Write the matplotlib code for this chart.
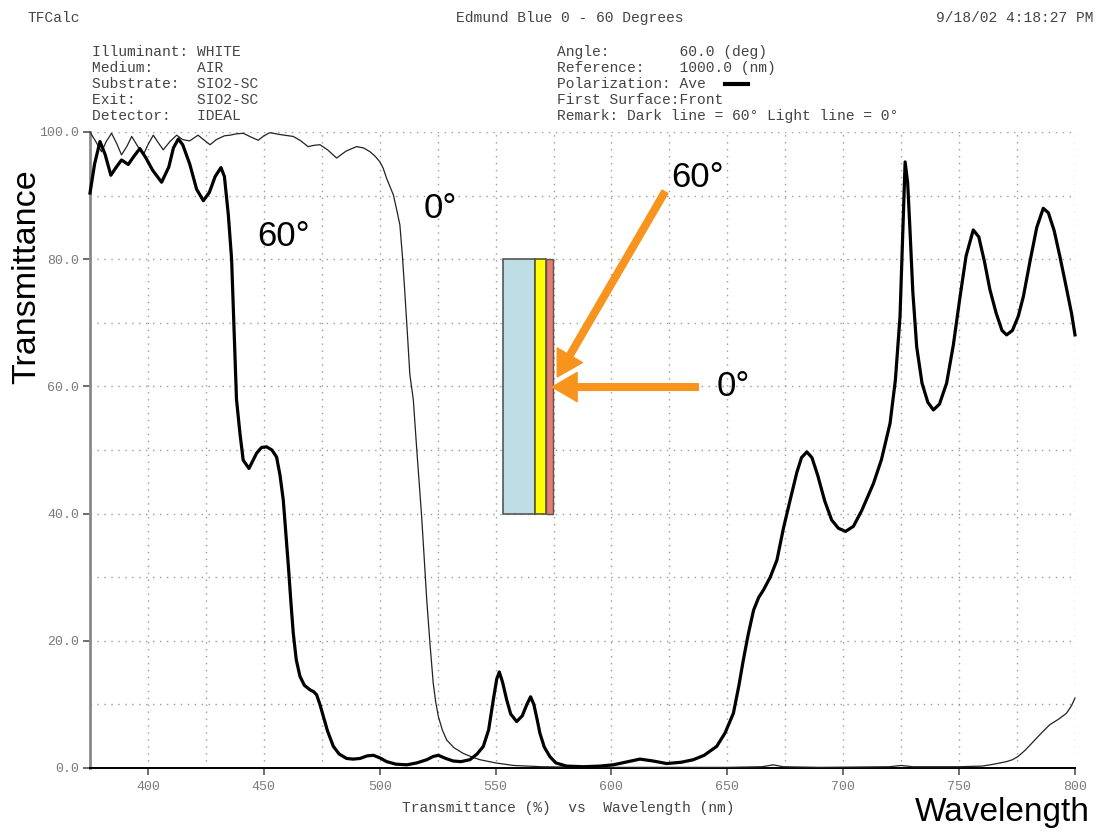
import matplotlib
matplotlib.use('Agg')
import matplotlib.pyplot as plt
from matplotlib.patches import Rectangle
from matplotlib.lines import Line2D

# ---------------- data ----------------
wl_60 = [375, 377, 379.3, 381.5, 384, 386, 388.6, 391.5, 394, 396.5, 399, 402, 405.9, 409, 411,
         413.1, 415, 418, 421, 423.9, 426.5, 429, 431.5, 433, 434.7, 436.1, 437.5, 438.2, 439.7,
         441.1, 443.6, 446.9, 449, 451.2, 453.5, 455.5, 457, 458.4, 459.5, 460.6, 461.7, 462.7,
         464, 465.6, 467.5, 469.9, 471.5, 472.8, 474.2, 475.7, 477.5, 480, 482.5, 485.7, 488.5,
         491.5, 494.5, 497.3, 500, 503, 507, 511.7, 516, 520.3, 523, 525.3, 528.5, 531.7, 535,
         538.9, 542, 544.7, 547, 549, 550.5, 551.6, 553, 554.8, 556.5, 559.1, 561.5, 563.5, 565.1,
         566.5, 568, 569.1, 571, 573.4, 576, 580.6, 587.9, 595, 600.8, 606, 612.3, 618, 623.8,
         630, 635.3, 640, 645.4, 649, 652.6, 655, 656.9, 659, 661.3, 663.5, 665.6, 668.5, 671.4,
         674.2, 677, 680, 682, 684.3, 686.5, 689, 692, 695, 697.9, 701, 704.4, 708, 713, 716.5,
         720.2, 722.5, 724.5, 725.6, 726.7, 727.8, 728.8, 730, 731.7, 734, 736.5, 738.9, 741.5,
         744.6, 747.5, 750.4, 753, 756.1, 758.5, 761, 763.3, 766, 768.5, 770.5, 773, 775.5, 777.7,
         780.5, 783.5, 786.3, 788.5, 791, 793.5, 796, 798.5, 800]
t_60 = [90.4, 95, 98.5, 96.5, 93.2, 94.3, 95.6, 94.9, 96.2, 97.4, 96, 94, 92.1, 94.5, 97.5,
        98.9, 98, 95, 91, 89.2, 90.5, 93, 94.4, 93, 86.9, 80, 65, 58, 52.6,
        48.4, 47.1, 49.5, 50.4, 50.5, 50, 48.9, 46, 42.1, 37, 31.7, 26, 21.2,
        17, 14.4, 13, 12.3, 12, 11.5, 10, 8.1, 5.8, 3.4, 2.2, 1.5, 1.4,
        1.5, 1.9, 2.0, 1.6, 1.0, 0.6, 0.5, 0.8, 1.3, 1.8, 2.0, 1.5, 1.1, 1.0,
        1.3, 2.2, 3.4, 6, 10.7, 14, 15.1, 13.5, 10.7, 8.5, 7.3, 8.2, 10, 11.2,
        10, 7.5, 5.5, 3.3, 1.8, 0.8, 0.3, 0.2, 0.3, 0.5, 0.9, 1.4, 1.1, 0.7,
        0.9, 1.3, 2.0, 3.4, 5.5, 8.6, 13, 17, 21, 24.8, 26.8, 28, 30, 32.7,
        37.7, 42, 46.5, 48.8, 49.7, 48.8, 46, 42, 39, 37.7, 37.2, 38, 40.5, 44.7, 48.5,
        54.2, 61, 71, 83, 95.3, 92, 84.6, 75, 66.2, 60.5, 57.5, 56.3, 57.2,
        60.5, 66.5, 74.1, 80.5, 84.6, 83.5, 79.5, 75.2, 71.5, 68.8, 68.1, 68.8, 71, 74.1,
        79.5, 85, 88, 87.3, 84.5, 80.4, 76, 71.5, 68.1]

wl_0 = [375, 377.5, 380, 382, 384.3, 386.5, 388.6, 391, 393, 395.5, 398, 400, 402.3, 404.5,
        406.6, 409.5, 412.4, 415, 418, 421.6, 424, 426.8, 429.5, 433, 435.4, 438, 441.1, 444.5,
        447.6, 450, 452.6, 457, 462.7, 466, 469.1, 471.5, 474.2, 477.5, 481.4, 485.5, 490, 493,
        495.8, 498, 500.1, 501.5, 503, 505.9, 507.5, 508.7, 509.8, 510.8, 512, 513, 514.5, 516,
        517, 518.1, 519.2, 520.3, 521.7, 523.1, 524.2, 525.3, 527, 528.9, 532, 536, 540, 543.3,
        550, 557.7, 570, 590, 620, 650, 665, 669.8, 674, 690, 720, 725, 730, 750, 760, 765,
        770.4, 773, 775.4, 778.5, 781.9, 785.5, 789.1, 793, 796.3, 798.5, 800]
t_0 = [100, 98.5, 96.9, 98.5, 99.8, 98.2, 96.4, 97.8, 99.3, 97.8, 96.4, 98, 99.5, 98.3,
       97.2, 98.5, 99.5, 98.8, 98.6, 99.5, 98.8, 98, 98.8, 99.4, 99.5, 99.7, 99.8, 99.2,
       98.7, 99.4, 99.9, 99.6, 99.3, 98.6, 97.7, 97.9, 98, 97.2, 95.9, 97, 97.7, 97.5,
       96.9, 96.2, 95.3, 94.3, 92.7, 90.1, 87.5, 85.4, 80.5, 75, 68, 61.9, 57.9, 50,
       45, 39.5, 33, 26.4, 19.5, 13.3, 10.3, 8.1, 6, 4.4, 3.2, 2.3, 1.7, 1.3,
       0.8, 0.4, 0.2, 0.1, 0.1, 0.1, 0.2, 0.5, 0.2, 0.1, 0.2, 0.4, 0.2, 0.2, 0.3, 0.6,
       1.0, 1.3, 1.8, 2.8, 4.1, 5.5, 6.8, 7.7, 8.6, 9.8, 11]

x_ticks = [400, 450, 500, 550, 600, 650, 700, 750, 800]
y_ticks = [0, 20, 40, 60, 80, 100]
y_tick_labels = ['0.0', '20.0', '40.0', '60.0', '80.0', '100.0']

header_left = 'TFCalc'
header_title = 'Edmund Blue 0 - 60 Degrees'
header_right = '9/18/02 4:18:27 PM'
info_left = ['Illuminant: WHITE', 'Medium:     AIR', 'Substrate:  SIO2-SC',
             'Exit:       SIO2-SC', 'Detector:   IDEAL']
info_right = ['Angle:        60.0 (deg)', 'Reference:    1000.0 (nm)',
              'Polarization: Ave', 'First Surface:Front',
              'Remark: Dark line = 60\u00b0 Light line = 0\u00b0']

# ---------------- figure ----------------
W, H = 1097, 832
fig = plt.figure(figsize=(W / 100, H / 100), dpi=100)
fig.patch.set_facecolor('white')

def fx(px):
    return px / W

def fy(py):
    return 1 - py / H

ax = fig.add_axes([fx(90), fy(768), (1075 - 90) / W, (768 - 132) / H])
ax.set_xlim(375, 800)
ax.set_ylim(0, 100)

mono = ['Liberation Mono', 'DejaVu Sans Mono']
sans = ['Liberation Sans', 'DejaVu Sans']
txt_col = '#444444'
tick_col = '#7a7a7a'

# grid
for x in range(375, 801, 25):
    ax.axvline(x, color='#9a9a9a', lw=1.0, ls=(0, (1, 4)), zorder=0)
for y in range(10, 101, 10):
    ax.axhline(y, color='#9a9a9a', lw=1.0, ls=(0, (1, 4)), zorder=0)

# curves
ax.plot(wl_0, t_0, color='#222222', lw=0.9, solid_joinstyle='round', zorder=3, clip_on=False)
ax.plot(wl_60, t_60, color='black', lw=2.3, solid_joinstyle='round', zorder=4, clip_on=False)

# spines / ticks
for s in ['top', 'right']:
    ax.spines[s].set_visible(False)
ax.spines['left'].set_color('#8a8a8a')
ax.spines['left'].set_linewidth(2.0)
ax.spines['bottom'].set_color('black')
ax.spines['bottom'].set_linewidth(1.4)
ax.set_xticks(x_ticks)
ax.set_xticklabels([str(v) for v in x_ticks])
ax.set_yticks(y_ticks)
ax.set_yticklabels(y_tick_labels)
ax.tick_params(axis='both', direction='out', length=5, width=1.2, color='#555555',
               labelcolor=tick_col, labelsize=9.5)
ax.tick_params(axis='x', pad=4)
ax.tick_params(axis='y', pad=3)
for lab in ax.get_xticklabels() + ax.get_yticklabels():
    lab.set_fontfamily(mono)

# substrate drawing
ax.add_patch(Rectangle((553.3, 40), 567 - 553.3, 40, facecolor='#bfdde4',
                       edgecolor='#555555', lw=1.2, zorder=5))
ax.add_patch(Rectangle((567, 40), 571.6 - 567, 40, facecolor='#ffff00',
                       edgecolor='#555533', lw=1.2, zorder=5))
ax.add_patch(Rectangle((571.6, 40), 574.9 - 571.6, 40, facecolor='#e87a6e',
                       edgecolor='#555555', lw=1.0, zorder=5))

# arrows
orange = '#f7941d'
arrow_style = 'simple,head_length=0.9,head_width=1.05,tail_width=0.24'
ax.annotate('', xy=(576.6, 61.5), xytext=(623.1, 90.6),
            arrowprops=dict(arrowstyle=arrow_style, color=orange, mutation_scale=20,
                            shrinkA=0, shrinkB=0), zorder=6)
ax.annotate('', xy=(574.4, 59.9), xytext=(637.5, 59.9),
            arrowprops=dict(arrowstyle=arrow_style, color=orange, mutation_scale=20,
                            shrinkA=0, shrinkB=0), zorder=6)

# in-chart labels
big = 25
ax.text(458.7, 83.5, '60\u00b0', fontsize=big, family=sans, ha='center', va='center', zorder=7)
ax.text(526.0, 88.0, '0\u00b0', fontsize=big, family=sans, ha='center', va='center', zorder=7)
ax.text(637.0, 92.9, '60\u00b0', fontsize=big, family=sans, ha='center', va='center', zorder=7)
ax.text(652.6, 60.0, '0\u00b0', fontsize=big, family=sans, ha='center', va='center', zorder=7)

# axis titles
fig.text(fx(27), fy(277), 'Transmittance', rotation=90, fontsize=24.5, family=sans,
         ha='center', va='center')
fig.text(fx(1090), fy(812), 'Wavelength', fontsize=24, family=sans, ha='right', va='center')
fig.text(fx(568), fy(808), 'Transmittance (%)  vs  Wavelength (nm)', fontsize=10.5,
         family=mono, color=txt_col, ha='center', va='center')

# header
fs = 10.5
fig.text(fx(28), fy(18), header_left, fontsize=fs, family=mono, color=txt_col, va='center')
fig.text(fx(570), fy(18), header_title, fontsize=fs, family=mono, color=txt_col,
         ha='center', va='center')
fig.text(fx(1094), fy(18), header_right, fontsize=fs, family=mono, color=txt_col,
         ha='right', va='center')
for i, line in enumerate(info_left):
    fig.text(fx(92), fy(52 + 16 * i), line, fontsize=fs, family=mono, color=txt_col, va='center')
for i, line in enumerate(info_right):
    fig.text(fx(557), fy(52 + 16 * i), line, fontsize=fs, family=mono, color=txt_col, va='center')
fig.add_artist(Line2D([fx(725), fx(748)], [fy(84), fy(84)], color='black', lw=3))

fig.savefig('out.png', dpi=100, facecolor='white')
